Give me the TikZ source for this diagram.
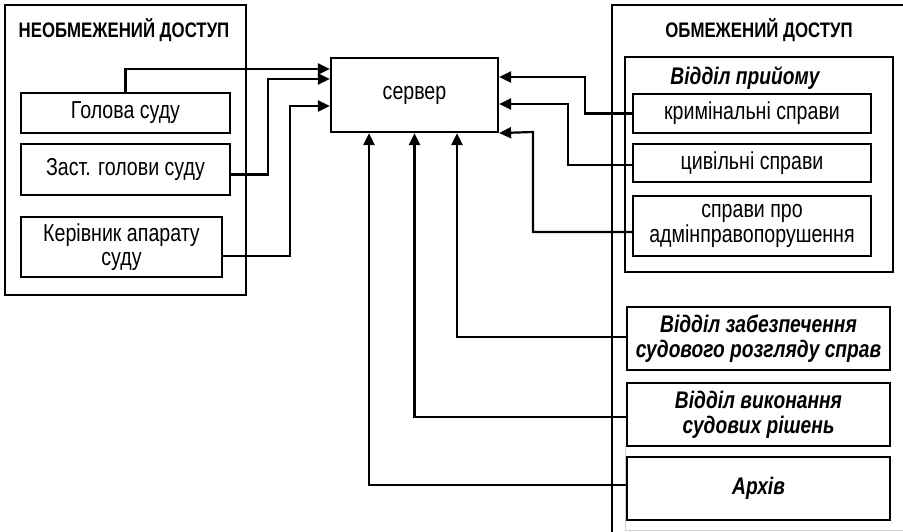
\documentclass[tikz,border=0pt]{standalone}
\usepackage{fontspec}
\setmainfont{Liberation Sans}[FakeStretch=0.8]
\usetikzlibrary{arrows.meta}
\begin{document}
\begin{tikzpicture}[x=1pt,y=-1pt,
  line width=2.2pt,
  box/.style={draw,rectangle,inner sep=0pt,align=center,font=\fontsize{24.5}{24.5}\selectfont},
  dept/.style={draw,rectangle,inner sep=0pt,align=center,font=\fontsize{24}{25}\selectfont\bfseries\itshape},
  frame/.style={draw,rectangle,inner sep=0pt},
  ttl/.style={inner sep=0pt,font=\fontsize{21}{23}\selectfont\bfseries},
  arr/.style={-{Triangle[length=12pt,width=11pt]}}]
\useasboundingbox (0,0) rectangle (903,532);
% left frame
\node[frame,minimum width=241pt,minimum height=290pt] (leftframe) at (125.5,150) {};
\node[ttl] (lefttitle) at (124,30) {НЕОБМЕЖЕНИЙ ДОСТУП};
\node[box,minimum width=209pt,minimum height=40pt] (golova) at (125.5,113) {Голова суду};
\node[box,minimum width=209pt,minimum height=51pt] (zast) at (125.5,169.5) {Заст. голови суду};
\node[box,minimum width=201pt,minimum height=60pt] (kerivnyk) at (121.5,247) {Керівник апарату\\суду};
% server
\node[box,minimum width=167pt,minimum height=74pt] (server) at (414.5,95) {сервер};
% right frame
\draw (903,5) -- (612,5) -- (612,532);
\draw[gray!35,line width=1pt] (625,446) -- (625,530) -- (903,530);
\node[ttl] (righttitle) at (759,30) {ОБМЕЖЕНИЙ ДОСТУП};
\node[frame,minimum width=268pt,minimum height=215pt] (pryiom) at (759,164.5) {};
\node[inner sep=0pt,font=\fontsize{24}{24}\selectfont\bfseries\itshape] (pryiomtitle) at (745,78) {Відділ прийому};
\node[box,minimum width=238pt,minimum height=39pt] (krym) at (752,113.5) {кримінальні справи};
\node[box,minimum width=238pt,minimum height=38pt] (tsyv) at (752,163) {цивільні справи};
\node[box,minimum width=238pt,minimum height=60pt] (adm) at (752,226) {справи про\\адмінправопорушення};
\node[dept,minimum width=263pt,minimum height=63pt] (zabezp) at (758.5,338.5) {Відділ забезпечення\\судового розгляду справ};
\node[dept,minimum width=263pt,minimum height=63pt] (vykon) at (758.5,414.5) {Відділ виконання\\судових рішень};
\node[dept,minimum width=263pt,minimum height=63pt] (arkhiv) at (758.5,488.5) {Архів};
% connectors left
\draw[arr] (golova.north) |- ([yshift=26pt]server.west);
\draw[arr] ([yshift=-5pt]zast.east) -| (268,79) -- ([yshift=16pt]server.west);
\draw[arr] ([yshift=-9pt]kerivnyk.east) -| (290,106) -- ([yshift=-11pt]server.west);
% connectors right
\draw[arr] (krym.west) -| (585,77) -- ([yshift=18pt]server.east);
\draw[arr] ([yshift=-2pt]tsyv.west) -| (568,104) -- ([yshift=-9pt]server.east);
\draw[arr] ([yshift=-6pt]adm.west) -| (533,132) -- (server.south east);
% connectors bottom
\draw[arr] ([yshift=1.5pt]zabezp.west) -| ([xshift=42.5pt]server.south);
\draw[arr] ([yshift=-2.5pt]vykon.west) -| (server.south);
\draw[arr] ([yshift=3.5pt]arkhiv.west) -| ([xshift=-45.5pt]server.south);
\end{tikzpicture}
\end{document}
